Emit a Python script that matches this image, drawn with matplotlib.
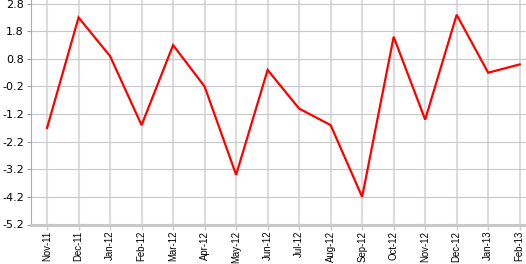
import matplotlib.pyplot as plt
import numpy as np

months = ["Nov-11", "Dec-11", "Jan-12", "Feb-12", "Mar-12", "Apr-12", "May-12", "Jun-12",
          "Jul-12", "Aug-12", "Sep-12", "Oct-12", "Nov-12", "Dec-12", "Jan-13", "Feb-13"]
values = [-1.7, 2.3, 0.9, -1.6, 1.3, -0.2, -3.4, 0.4,
          -1.0, -1.6, -4.2, 1.6, -1.4, 2.4, 0.3, 0.6]
yticks = [2.8, 1.8, 0.8, -0.2, -1.2, -2.2, -3.2, -4.2, -5.2]

fig = plt.figure(figsize=(5.26, 2.64), dpi=100)
ax = fig.add_axes([31 / 526, 39.5 / 264, 495 / 526, 224.5 / 264])

x = np.arange(len(months))
ax.plot(x, values, color="#ff0000", lw=1.6, solid_joinstyle="miter", zorder=3)

ax.set_xlim(-0.51, 15.2)
ax.set_ylim(-5.2, 2.934)

# vertical grid lighter and wider than horizontal grid
for xi in x:
    ax.axvline(xi, color="#dcdcdc", lw=1.5, zorder=1)
for yt in yticks[:-1]:
    ax.axhline(yt, color="#c8c8c8", lw=0.8, zorder=1)

ax.set_yticks(yticks)
ax.set_yticklabels([f"{v:.1f}" for v in yticks], fontsize=8, family="DejaVu Sans")
ax.set_xticks(x)
ax.set_xticklabels(months, rotation=90, fontsize=6.9, family="Liberation Sans")

ax.tick_params(axis="y", length=3, width=0.8, color="#999999", pad=2)
ax.tick_params(axis="x", length=3.5, width=1, color="#cccccc", pad=1)

for s in ["top", "right"]:
    ax.spines[s].set_visible(False)
ax.spines["left"].set_color("#aaaaaa")
ax.spines["left"].set_linewidth(0.8)
ax.spines["bottom"].set_color("#c8c8c8")
ax.spines["bottom"].set_linewidth(2.2)

fig.savefig("out.png", dpi=100)
